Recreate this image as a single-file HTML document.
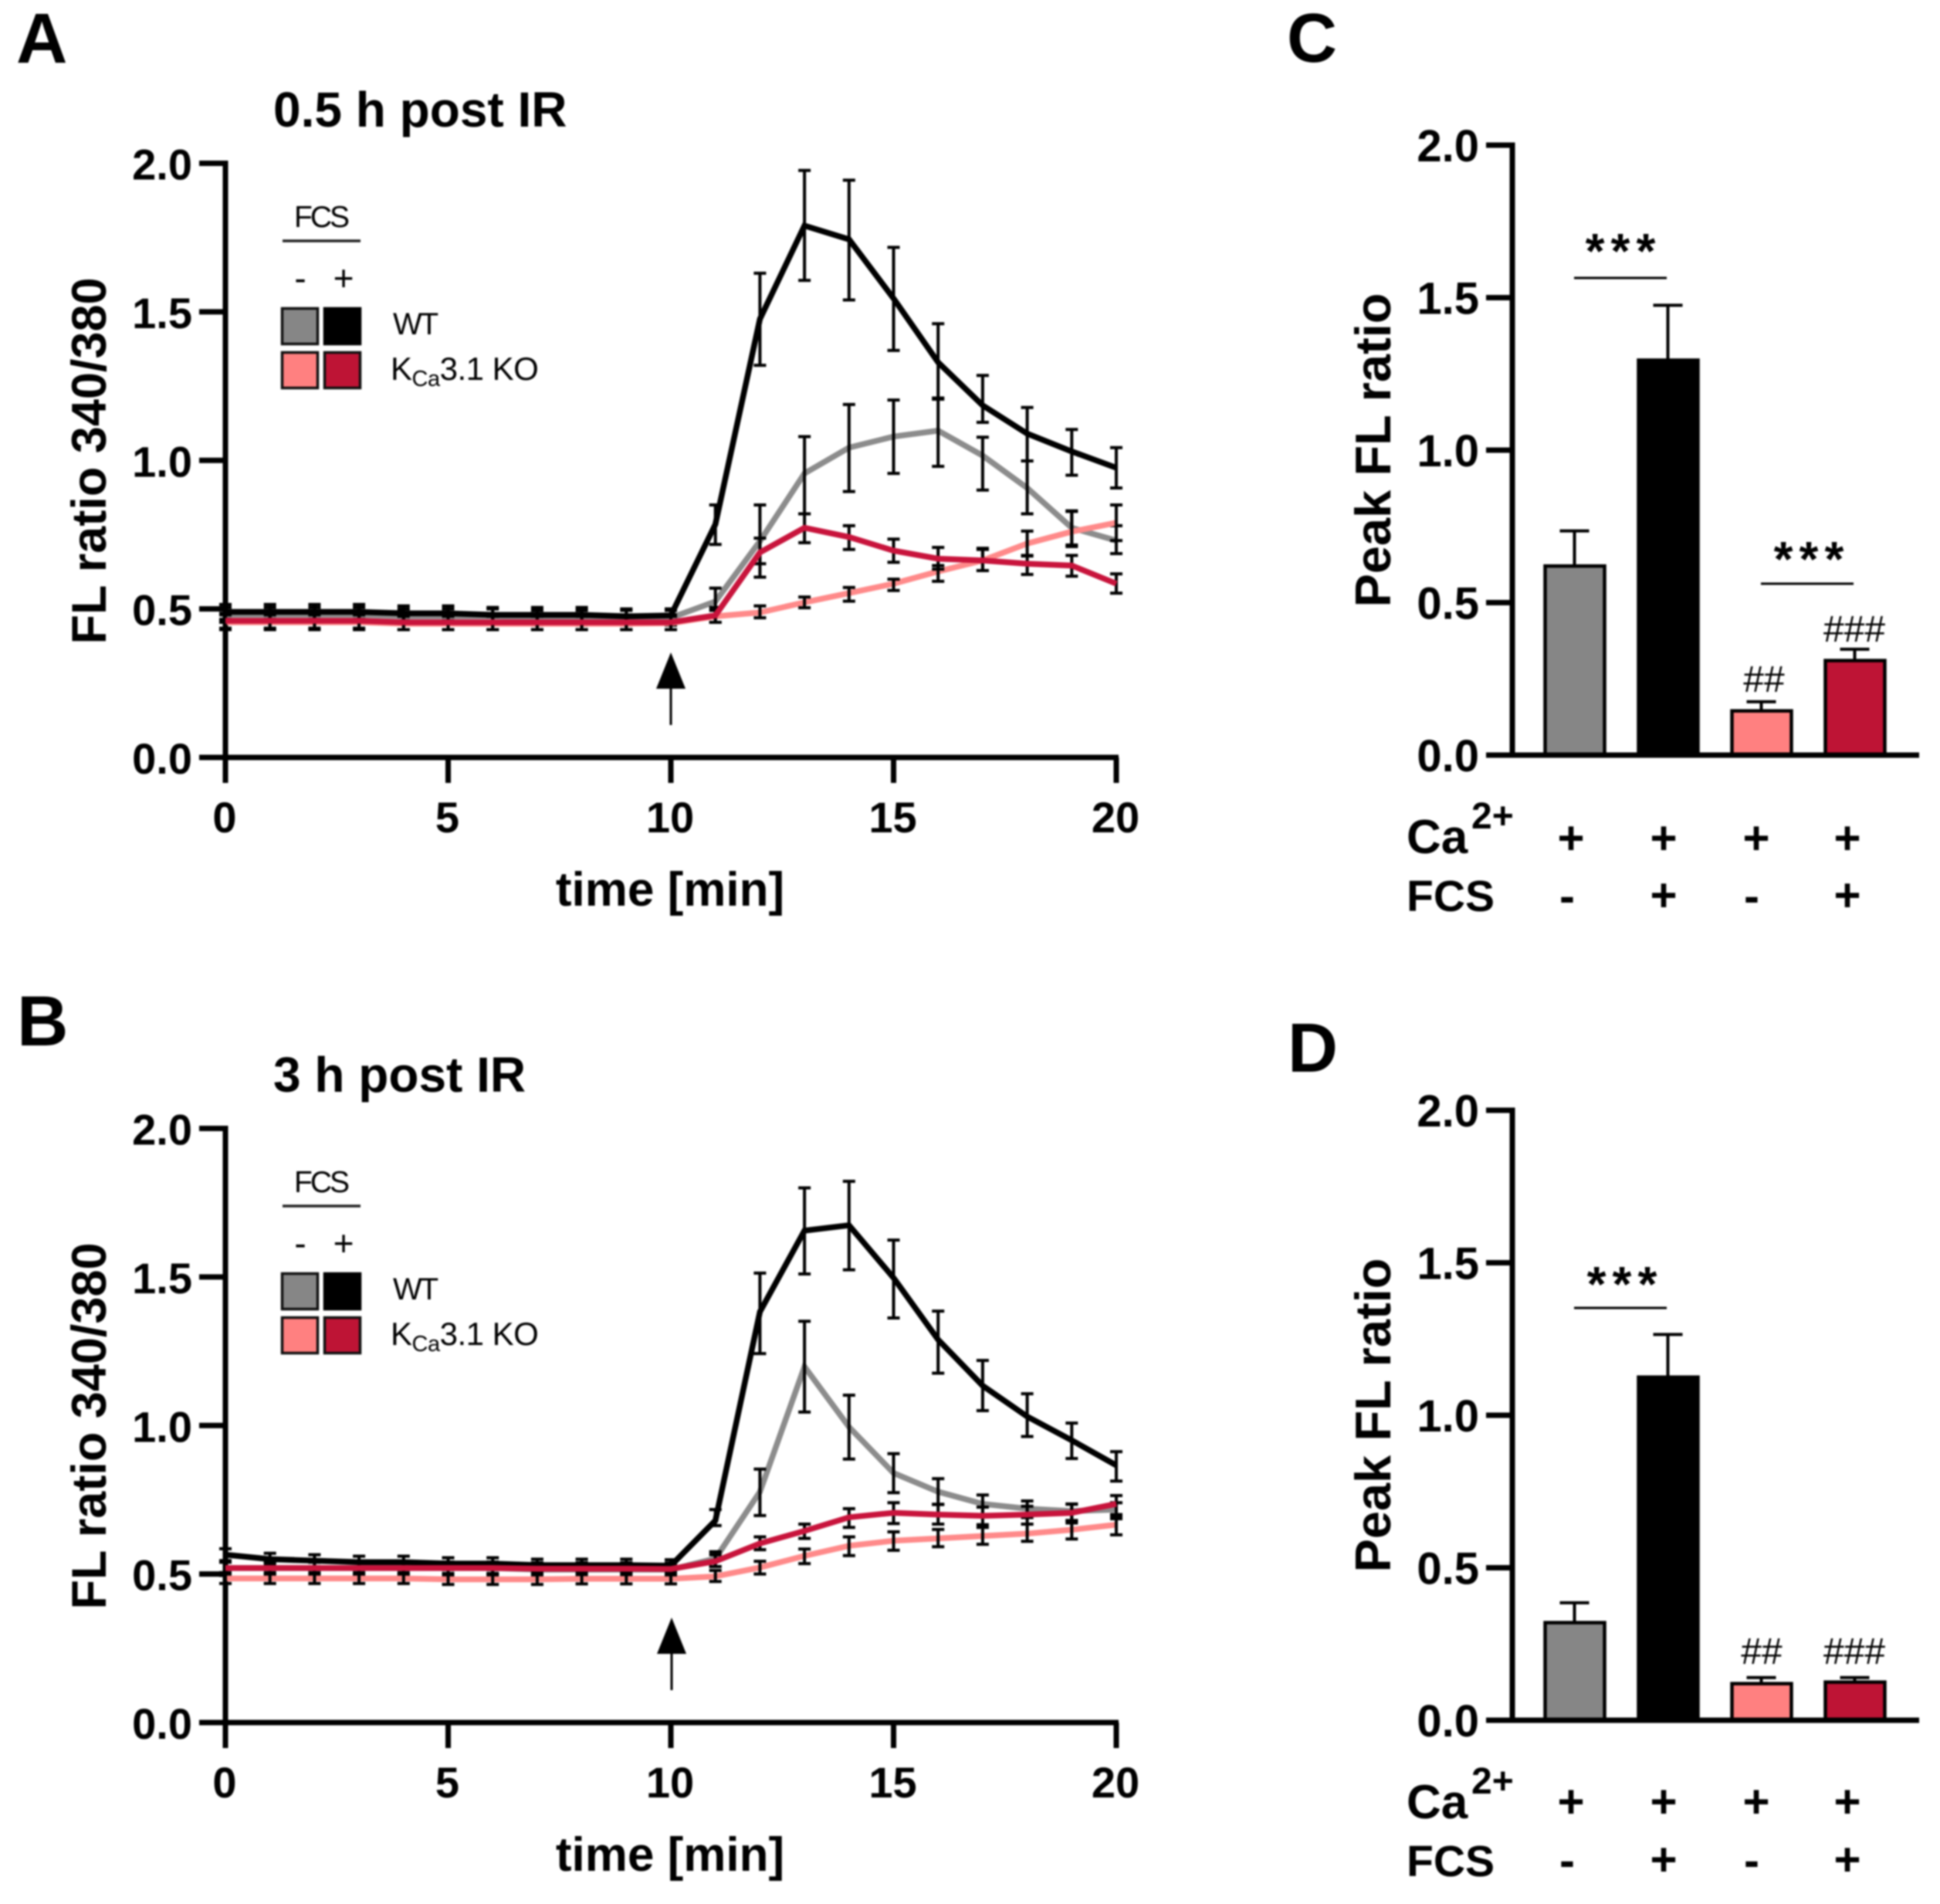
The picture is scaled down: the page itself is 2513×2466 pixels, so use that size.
<!DOCTYPE html>
<html lang="en">
<head>
<meta charset="utf-8">
<title>FL ratio and peak FL ratio panels</title>
<style>
html,body{margin:0;padding:0;background:#fff;}
#figure{display:block;filter:blur(1px);}
text{font-family:"Liberation Sans",Arial,sans-serif;fill:#000;}
.b{font-weight:bold;}
</style>
</head>
<body>
<svg id="figure" xmlns="http://www.w3.org/2000/svg" width="2513" height="2466" viewBox="0 0 2513 2466">
<rect x="0" y="0" width="2513" height="2466" fill="#fff"/>

<text class="b" x="21" y="81" font-size="92">A</text>
<text class="b" x="22" y="1354" font-size="92">B</text>
<text class="b" x="1667" y="80" font-size="90">C</text>
<text class="b" x="1668" y="1388" font-size="90">D</text>

<g id="panelA">
  <text class="b" x="354" y="164" font-size="64">0.5 h post IR</text>
  <text class="b" x="137" y="597" font-size="63" text-anchor="middle" transform="rotate(-90 137 597)">FL ratio 340/380</text>
  <text class="b" x="868" y="1173" font-size="62" text-anchor="middle">time [min]</text>
  <g>
    <text x="381" y="294" font-size="39" letter-spacing="-3">FCS</text>
    <line x1="366" y1="312" x2="467" y2="312" stroke="#222" stroke-width="3.5"/>
    <text x="389" y="376" font-size="46" text-anchor="middle">-</text>
    <text x="445" y="376" font-size="46" text-anchor="middle">+</text>
    <rect x="365.500" y="399.500" width="46" height="46" fill="#868686" stroke="#111" stroke-width="3.500"/>
    <rect x="420.500" y="399.500" width="46" height="46" fill="#000" stroke="#000" stroke-width="3.500"/>
    <rect x="365.500" y="456.500" width="46" height="46" fill="#ff8080" stroke="#111" stroke-width="3.500"/>
    <rect x="420.500" y="456.500" width="46" height="46" fill="#be1435" stroke="#111" stroke-width="3.500"/>
    <text x="509" y="433" font-size="40" letter-spacing="-3">WT</text>
    <text x="506" y="492" font-size="42" letter-spacing="-0.5">K<tspan font-size="29" dy="8">Ca</tspan><tspan dy="-8">3.1 KO</tspan></text>
  </g>
  <g>
    <line x1="869" y1="880" x2="869" y2="939" stroke="#000" stroke-width="3"/>
    <polygon points="869,845 850,892 888,892" fill="#000"/>
  </g>
</g>

<g id="panelB" transform="translate(0,1250)">
  <text class="b" x="354" y="164" font-size="64">3 h post IR</text>
  <text class="b" x="137" y="597" font-size="63" text-anchor="middle" transform="rotate(-90 137 597)">FL ratio 340/380</text>
  <text class="b" x="868" y="1173" font-size="62" text-anchor="middle">time [min]</text>
  <g>
    <text x="381" y="294" font-size="39" letter-spacing="-3">FCS</text>
    <line x1="366" y1="312" x2="467" y2="312" stroke="#222" stroke-width="3.5"/>
    <text x="389" y="376" font-size="46" text-anchor="middle">-</text>
    <text x="445" y="376" font-size="46" text-anchor="middle">+</text>
    <rect x="365.500" y="399.500" width="46" height="46" fill="#868686" stroke="#111" stroke-width="3.500"/>
    <rect x="420.500" y="399.500" width="46" height="46" fill="#000" stroke="#000" stroke-width="3.500"/>
    <rect x="365.500" y="456.500" width="46" height="46" fill="#ff8080" stroke="#111" stroke-width="3.500"/>
    <rect x="420.500" y="456.500" width="46" height="46" fill="#be1435" stroke="#111" stroke-width="3.500"/>
    <text x="509" y="433" font-size="40" letter-spacing="-3">WT</text>
    <text x="506" y="492" font-size="42" letter-spacing="-0.5">K<tspan font-size="29" dy="8">Ca</tspan><tspan dy="-8">3.1 KO</tspan></text>
  </g>
  <g>
    <line x1="870" y1="880" x2="870" y2="939" stroke="#000" stroke-width="3"/>
    <polygon points="870,845 851,892 889,892" fill="#000"/>
  </g>
</g>

<g id="panelC">
  <text class="b" x="1801" y="583" font-size="65" text-anchor="middle" transform="rotate(-90 1801 583)">Peak FL ratio</text>
  <text class="b" x="2103" y="347" font-size="64" letter-spacing="8" text-anchor="middle">***</text>
  <line x1="2039" y1="360" x2="2159" y2="360" stroke="#000" stroke-width="3"/>
  <text class="b" x="2347" y="746" font-size="64" letter-spacing="8" text-anchor="middle">***</text>
  <line x1="2281" y1="756" x2="2401" y2="756" stroke="#000" stroke-width="3"/>
  <text x="2285" y="896" font-size="48" text-anchor="middle">##</text>
  <text x="2402" y="831" font-size="48" text-anchor="middle">###</text>
  <text class="b" x="1822" y="1105" font-size="62">Ca</text>
  <text class="b" x="1906" y="1073" font-size="48">2+</text>
  <text class="b" x="1822" y="1180" font-size="57">FCS</text>
  <g class="b" font-size="60" text-anchor="middle">
    <text x="2035" y="1106">+</text>
    <text x="2155" y="1106">+</text>
    <text x="2275" y="1106">+</text>
    <text x="2393" y="1106">+</text>
    <text x="2030" y="1181">-</text>
    <text x="2155" y="1180">+</text>
    <text x="2269" y="1181">-</text>
    <text x="2393" y="1180">+</text>
  </g>
</g>

<g id="panelD" transform="translate(0,1250)">
  <text class="b" x="1801" y="583" font-size="65" text-anchor="middle" transform="rotate(-90 1801 583)">Peak FL ratio</text>
  <text class="b" x="2105" y="435" font-size="64" letter-spacing="8" text-anchor="middle">***</text>
  <line x1="2039" y1="444" x2="2159" y2="444" stroke="#000" stroke-width="3"/>
  <text x="2282" y="905" font-size="48" text-anchor="middle">##</text>
  <text x="2402" y="905" font-size="48" text-anchor="middle">###</text>
  <text class="b" x="1822" y="1105" font-size="62">Ca</text>
  <text class="b" x="1906" y="1073" font-size="48">2+</text>
  <text class="b" x="1822" y="1180" font-size="57">FCS</text>
  <g class="b" font-size="60" text-anchor="middle">
    <text x="2035" y="1104">+</text>
    <text x="2155" y="1104">+</text>
    <text x="2275" y="1104">+</text>
    <text x="2393" y="1104">+</text>
    <text x="2030" y="1180">-</text>
    <text x="2155" y="1179">+</text>
    <text x="2269" y="1180">-</text>
    <text x="2393" y="1179">+</text>
  </g>
</g>
</svg>

<script>
const timeMinutes = [0,1,2,3,4,5,6,7,8,9,10,11,12,13,14,15,16,17,18,19,20];
const xTickLabels = [0,5,10,15,20];
const yTickLabels = ["0.0","0.5","1.0","1.5","2.0"];
const barGroups = ["WT FCS-","WT FCS+","KO FCS-","KO FCS+"];

const aGrayMean = [.48,.48,.48,.48,.475,.475,.475,.47,.47,.47,.47,.525,.728,.956,1.043,1.08,1.10,1.016,.907,.773,.73];
const aGrayUpper = [.505,.505,.505,.505,.5,.5,.5,.495,.495,.495,.495,.57,.85,1.08,1.188,1.203,1.21,1.078,.998,.83,.78];
const aGrayLower = [.455,.455,.455,.455,.45,.45,.45,.445,.445,.445,.445,.48,.607,.82,.895,.956,.98,.90,.82,.71,.686];
const aBlackMean = [.49,.49,.49,.49,.485,.485,.48,.48,.48,.475,.478,.785,1.476,1.79,1.744,1.545,1.33,1.185,1.09,1.03,.975];
const aBlackUpper = [.515,.515,.515,.515,.51,.51,.505,.505,.505,.5,.5,.85,1.63,1.976,1.943,1.717,1.46,1.286,1.178,1.104,1.043];
const aBlackLower = [.465,.465,.465,.465,.46,.46,.455,.455,.455,.45,.455,.717,1.32,1.606,1.54,1.37,1.206,1.128,.998,.95,.907];
const aPinkMean = [.455,.455,.455,.455,.45,.45,.45,.45,.45,.45,.452,.475,.488,.522,.553,.585,.626,.663,.72,.76,.79];
const aPinkUpper = [.48,.48,.48,.48,.475,.475,.475,.475,.475,.475,.475,.495,.51,.54,.572,.60,.646,.70,.762,.828,.85];
const aPinkLower = [.43,.43,.43,.43,.43,.43,.43,.43,.43,.43,.43,.455,.47,.504,.526,.562,.593,.629,.678,.715,.73];
const aRedMean = [.46,.46,.46,.46,.455,.455,.455,.455,.455,.455,.455,.478,.69,.773,.742,.696,.669,.663,.652,.646,.585];
const aRedUpper = [.485,.485,.485,.485,.48,.48,.48,.48,.48,.48,.48,.505,.738,.82,.78,.735,.707,.704,.68,.68,.618];
const aRedLower = [.435,.435,.435,.435,.43,.43,.43,.43,.43,.43,.43,.455,.652,.723,.70,.657,.634,.629,.616,.61,.553];

const bGrayMean = [.52,.52,.52,.52,.52,.52,.52,.515,.515,.515,.515,.552,.777,1.198,.995,.84,.777,.736,.72,.712,.717];
const bGrayUpper = [.54,.54,.54,.54,.54,.54,.54,.535,.535,.535,.535,.575,.853,1.351,1.102,.905,.821,.766,.746,.736,.74];
const bGrayLower = [.495,.495,.495,.495,.495,.495,.495,.49,.49,.49,.49,.525,.697,1.045,.887,.774,.734,.70,.69,.68,.686];
const bBlackMean = [.565,.55,.545,.54,.54,.535,.535,.53,.53,.53,.528,.68,1.383,1.656,1.674,1.497,1.289,1.134,1.03,.95,.866];
const bBlackUpper = [.585,.57,.565,.56,.56,.555,.555,.55,.55,.55,.548,.717,1.513,1.80,1.822,1.624,1.385,1.219,1.107,1.008,.912];
const bBlackLower = [.545,.53,.525,.52,.52,.515,.515,.51,.51,.51,.508,.663,1.242,1.51,1.524,1.362,1.176,1.05,.963,.889,.813];
const bPinkMean = [.485,.485,.485,.485,.485,.482,.482,.482,.484,.484,.484,.492,.522,.561,.595,.612,.62,.628,.636,.649,.666];
const bPinkUpper = [.505,.505,.505,.505,.505,.502,.502,.502,.504,.504,.504,.512,.543,.584,.625,.642,.65,.657,.668,.68,.696];
const bPinkLower = [.468,.468,.468,.468,.468,.465,.465,.465,.467,.467,.467,.475,.50,.535,.562,.58,.592,.60,.61,.618,.632];
const bRedMean = [.52,.52,.52,.52,.52,.52,.52,.518,.518,.518,.517,.543,.603,.645,.691,.706,.70,.696,.70,.706,.736];
const bRedUpper = [.54,.54,.54,.54,.54,.54,.54,.538,.538,.538,.537,.565,.625,.668,.72,.74,.735,.725,.728,.735,.764];
const bRedLower = [.5,.5,.5,.5,.5,.5,.5,.498,.498,.498,.497,.525,.582,.62,.657,.67,.668,.666,.668,.672,.70];

const cBarValues = [.62,1.295,.145,.31];
const cBarErrorTops = [.735,1.475,.175,.347];
const dBarValues = [.32,1.125,.12,.125];
const dBarErrorTops = [.385,1.265,.14,.14];

const seriesColors = ["#8c8c8c","#000000","#ff8a8a","#c8143c"];
const seriesNames = ["wt-fcs-minus","wt-fcs-plus","ko-fcs-minus","ko-fcs-plus"];
const barColors = ["#868686","#000000","#ff8080","#be1435"];

const NS = "http://www.w3.org/2000/svg";

function make(tag, parent, props) {
  const el = document.createElementNS(NS, tag);
  for (const k in props) el.setAttribute(k, props[k]);
  parent.appendChild(el);
  return el;
}

function drawAxes(parent, prefix, x, y, xLabels) {
  const axisColor = "#000";
  const left = x(0);
  const bottom = y(0);
  const top = y(2);
  const right = xLabels ? x(20) : 2483;

  const yAxis = make("line", parent, {x1:left, y1:top-3.5, x2:left, y2:xLabels ? bottom+33 : bottom+3, stroke:axisColor, "stroke-width":7});
  
  

  const xAxis = make("line", parent, {x1:left-33, y1:bottom, x2:right+3, y2:bottom, stroke:axisColor, "stroke-width":7});
  
  

  yTickLabels.forEach(function (label) {
    const v = parseFloat(label);
    const tick = make("line", parent, {x1:left-34, y1:y(v), x2:left, y2:y(v), stroke:axisColor, "stroke-width":7});
    
    
    const t = make("text", parent, {x:left-43, y:y(v)+21, "font-size":xLabels ? 56 : 58, "font-weight":"bold", "text-anchor":"end"});
    t.textContent = label;
    
    
  });

  if (xLabels) {
    xLabels.forEach(function (label) {
      const tick = make("line", parent, {x1:x(label), y1:bottom, x2:x(label), y2:bottom+33, stroke:axisColor, "stroke-width":7});
      
      
      const t = make("text", parent, {x:x(label)-1, y:bottom+97, "font-size":56, "font-weight":"bold", "text-anchor":"middle"});
      t.textContent = String(label);
      
      
    });
  }
}

function drawSeries(parent, prefix, index, x, y, mean, upper, lower) {
  function bars() {
    timeMinutes.forEach(function (t, i) {
      const bar = make("path", parent, {
        d: "M" + x(t) + " " + y(upper[i]) + "V" + y(lower[i]) +
           "M" + (x(t)-8) + " " + y(upper[i]) + "h16" +
           "M" + (x(t)-8) + " " + y(lower[i]) + "h16",
        fill:"none", stroke:"#000", "stroke-width":4
      });
      
      
    });
  }
  function trace() {
    const pts = timeMinutes.map(function (t, i) { return x(t) + "," + y(mean[i]); }).join(" ");
    const line = make("polyline", parent, {points:pts, fill:"none", stroke:seriesColors[index], "stroke-width":7.5, "stroke-linejoin":"miter"});
    
    
  }
  if (index === 3) { bars(); trace(); } else { trace(); bars(); }
}

function drawLinePanel(parent, prefix, series) {
  const x = function (t) { return 292 + t * 57.7; };
  const y = function (v) { return 981 - v * 384.75; };
  drawAxes(parent, prefix, x, y, xTickLabels);
  series.forEach(function (s, i) {
    drawSeries(parent, prefix, i, x, y, s[0], s[1], s[2]);
  });
}

function drawBarPanel(parent, prefix, values, errorTops) {
  const x = function (i) { return 2039.5 + i * 121; };
  const y = function (v) { return 978 - v * 395; };
  values.forEach(function (v, i) {
    const err = make("path", parent, {
      d: "M" + x(i) + " " + y(v) + "V" + y(errorTops[i]) + "M" + (x(i)-19) + " " + y(errorTops[i]) + "h38",
      fill:"none", stroke:"#000", "stroke-width":4
    });
    
    
    const bar = make("rect", parent, {x:x(i)-38, y:y(v), width:77, height:y(0)-y(v), fill:barColors[i], stroke:"#000", "stroke-width":4.5});
    
    
    const title = make("title", bar, {});
    title.textContent = barGroups[i];
  });
  drawAxes(parent, prefix, function () { return 1959; }, y, null);
}

drawLinePanel(document.getElementById("panelA"), "panel-a", [
  [aGrayMean, aGrayUpper, aGrayLower],
  [aBlackMean, aBlackUpper, aBlackLower],
  [aPinkMean, aPinkUpper, aPinkLower],
  [aRedMean, aRedUpper, aRedLower]
]);
drawLinePanel(document.getElementById("panelB"), "panel-b", [
  [bGrayMean, bGrayUpper, bGrayLower],
  [bBlackMean, bBlackUpper, bBlackLower],
  [bPinkMean, bPinkUpper, bPinkLower],
  [bRedMean, bRedUpper, bRedLower]
]);
drawBarPanel(document.getElementById("panelC"), "panel-c", cBarValues, cBarErrorTops);
drawBarPanel(document.getElementById("panelD"), "panel-d", dBarValues, dBarErrorTops);
</script>
</body>
</html>
